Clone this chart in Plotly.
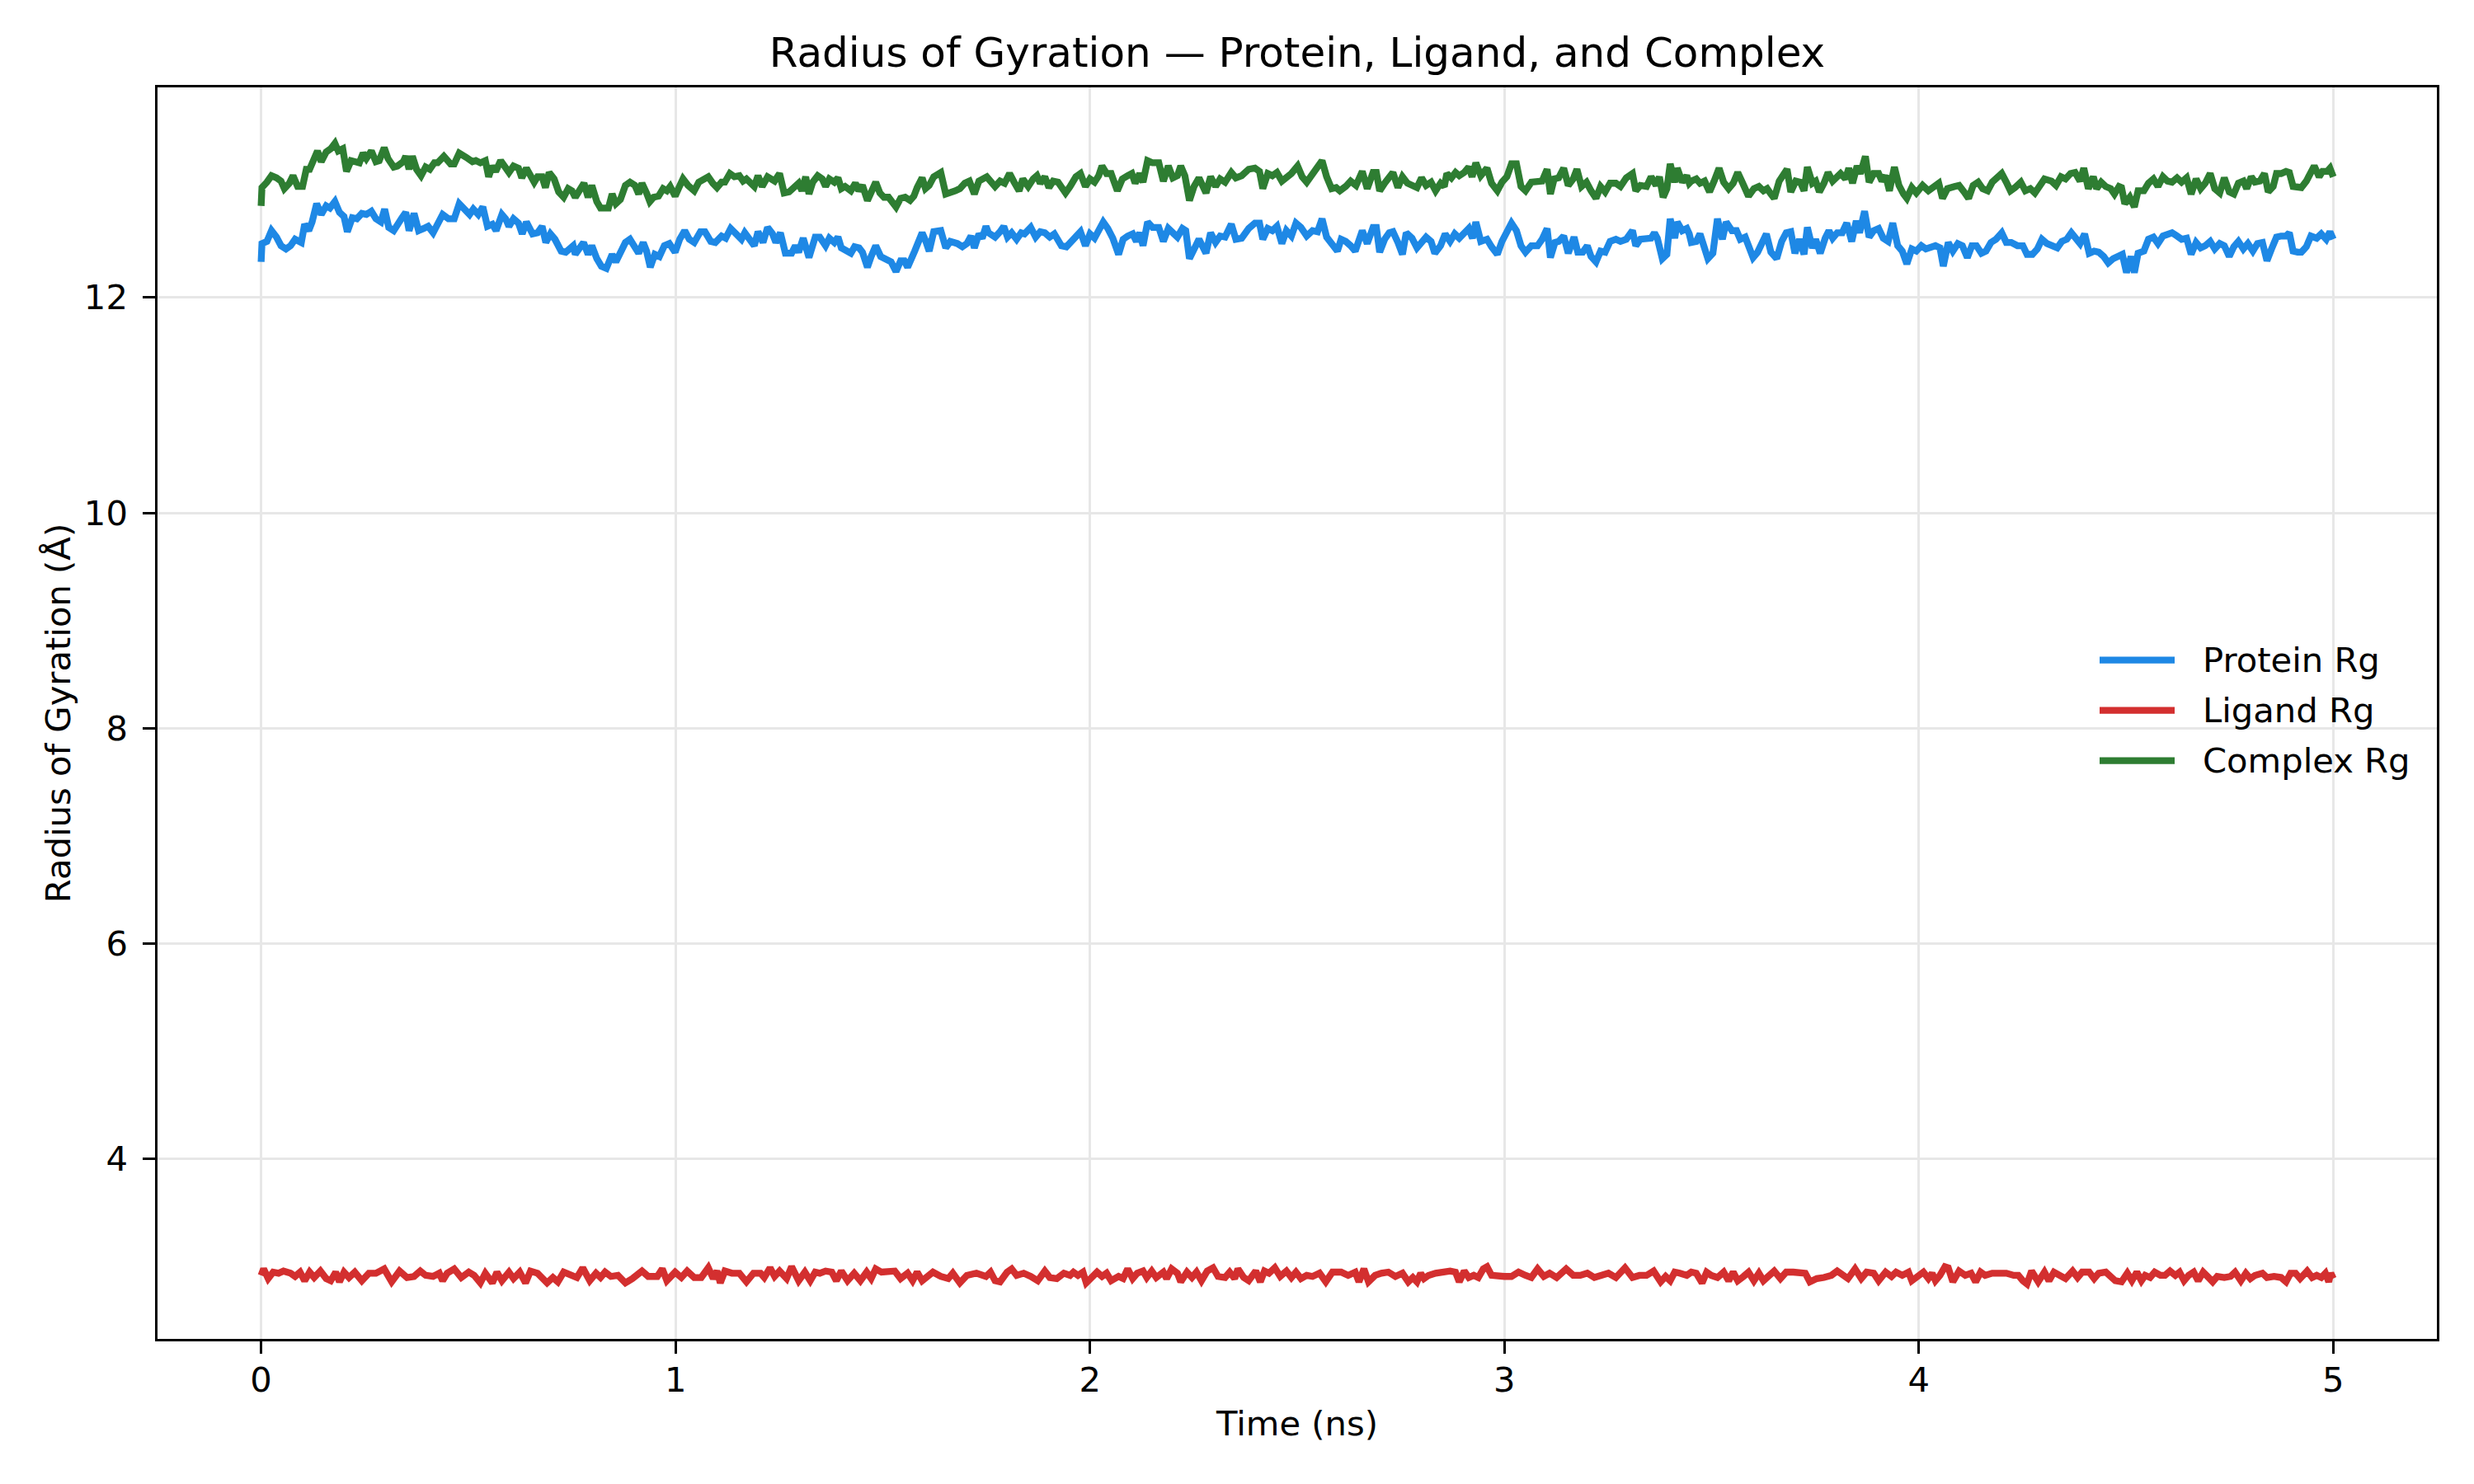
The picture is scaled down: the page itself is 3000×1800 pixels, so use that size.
import plotly.graph_objects as go

# ---------------- data ----------------
series_names = ["Protein Rg", "Ligand Rg", "Complex Rg"]
series_colors = ["#1E88E5", "#D32F2F", "#2E7D32"]

x_ticks = [0, 1, 2, 3, 4, 5]
y_ticks = [4, 6, 8, 10, 12]

protein_time = [
    0.000, 0.002, 0.014, 0.025, 0.037, 0.048, 0.060, 0.071, 0.082, 0.097, 0.105, 0.115, 0.123, 0.134, 0.145, 0.157,
    0.166, 0.178, 0.189, 0.200, 0.208, 0.220, 0.231, 0.243, 0.254, 0.266, 0.277, 0.289, 0.298, 0.308, 0.320, 0.329,
    0.340, 0.349, 0.357, 0.369, 0.380, 0.392, 0.403, 0.415, 0.426, 0.438, 0.452, 0.466, 0.478, 0.491, 0.503, 0.512,
    0.524, 0.535, 0.546, 0.558, 0.567, 0.581, 0.590, 0.598, 0.609, 0.621, 0.630, 0.640, 0.655, 0.667, 0.678, 0.687,
    0.698, 0.709, 0.724, 0.735, 0.753, 0.758, 0.770, 0.778, 0.789, 0.798, 0.810, 0.821, 0.833, 0.847, 0.856, 0.867,
    0.879, 0.890, 0.902, 0.911, 0.922, 0.930, 0.939, 0.950, 0.961, 0.973, 0.985, 0.999, 1.010, 1.022, 1.033, 1.045,
    1.060, 1.071, 1.085, 1.096, 1.111, 1.121, 1.133, 1.144, 1.159, 1.167, 1.179, 1.190, 1.199, 1.211, 1.222, 1.234,
    1.242, 1.253, 1.265, 1.280, 1.289, 1.297, 1.308, 1.322, 1.337, 1.348, 1.362, 1.371, 1.383, 1.392, 1.400, 1.411,
    1.423, 1.432, 1.443, 1.451, 1.463, 1.472, 1.483, 1.495, 1.509, 1.520, 1.532, 1.543, 1.552, 1.560, 1.577, 1.583,
    1.595, 1.604, 1.612, 1.623, 1.640, 1.652, 1.663, 1.680, 1.692, 1.703, 1.713, 1.721, 1.732, 1.740, 1.749, 1.755,
    1.771, 1.783, 1.792, 1.801, 1.811, 1.823, 1.834, 1.842, 1.857, 1.869, 1.880, 1.891, 1.903, 1.914, 1.931, 1.943,
    1.960, 1.977, 1.989, 2.000, 2.011, 2.023, 2.032, 2.043, 2.055, 2.069, 2.080, 2.091, 2.103, 2.112, 2.120, 2.128,
    2.139, 2.151, 2.166, 2.177, 2.189, 2.200, 2.211, 2.223, 2.231, 2.240, 2.251, 2.263, 2.280, 2.291, 2.303, 2.314,
    2.326, 2.341, 2.352, 2.366, 2.383, 2.398, 2.409, 2.417, 2.429, 2.440, 2.451, 2.463, 2.474, 2.486, 2.497, 2.509,
    2.523, 2.537, 2.549, 2.560, 2.571, 2.585, 2.597, 2.606, 2.617, 2.629, 2.640, 2.657, 2.669, 2.683, 2.691, 2.699,
    2.711, 2.722, 2.731, 2.743, 2.754, 2.763, 2.777, 2.789, 2.800, 2.811, 2.823, 2.832, 2.846, 2.857, 2.869, 2.880,
    2.891, 2.903, 2.914, 2.923, 2.931, 2.943, 2.958, 2.969, 2.983, 2.994, 3.006, 3.017, 3.029, 3.040, 3.051, 3.065,
    3.080, 3.091, 3.103, 3.111, 3.122, 3.131, 3.143, 3.154, 3.168, 3.177, 3.189, 3.200, 3.209, 3.221, 3.232, 3.243,
    3.255, 3.269, 3.280, 3.294, 3.309, 3.317, 3.328, 3.343, 3.354, 3.362, 3.369, 3.381, 3.392, 3.400, 3.411, 3.417,
    3.429, 3.440, 3.446, 3.451, 3.463, 3.472, 3.480, 3.491, 3.503, 3.514, 3.526, 3.535, 3.549, 3.560, 3.569, 3.581,
    3.589, 3.600, 3.611, 3.623, 3.632, 3.643, 3.657, 3.669, 3.680, 3.691, 3.701, 3.712, 3.723, 3.731, 3.743, 3.751,
    3.762, 3.774, 3.783, 3.792, 3.803, 3.815, 3.826, 3.838, 3.849, 3.857, 3.869, 3.880, 3.891, 3.903, 3.914, 3.926,
    3.937, 3.949, 3.960, 3.971, 3.983, 3.994, 4.006, 4.017, 4.029, 4.040, 4.051, 4.059, 4.071, 4.082, 4.094, 4.105,
    4.117, 4.128, 4.139, 4.151, 4.162, 4.174, 4.186, 4.200, 4.211, 4.223, 4.238, 4.251, 4.261, 4.274, 4.286, 4.297,
    4.309, 4.322, 4.334, 4.345, 4.357, 4.368, 4.379, 4.389, 4.400, 4.411, 4.423, 4.434, 4.446, 4.457, 4.469, 4.480,
    4.491, 4.501, 4.512, 4.520, 4.529, 4.543, 4.554, 4.566, 4.577, 4.589, 4.600, 4.611, 4.623, 4.634, 4.646, 4.657,
    4.669, 4.680, 4.691, 4.703, 4.714, 4.726, 4.737, 4.749, 4.760, 4.771, 4.783, 4.794, 4.806, 4.817, 4.829, 4.840,
    4.851, 4.863, 4.874, 4.886, 4.894, 4.903, 4.914, 4.923, 4.935, 4.946, 4.960, 4.971, 4.983, 4.992, 5.000,
]
protein_rg = [
    12.33, 12.50, 12.52, 12.62, 12.56, 12.48, 12.45, 12.48, 12.54, 12.51, 12.68, 12.62, 12.70, 12.87, 12.77, 12.85,
    12.83, 12.89, 12.79, 12.75, 12.61, 12.74, 12.73, 12.78, 12.77, 12.80, 12.73, 12.70, 12.82, 12.65, 12.62, 12.69,
    12.74, 12.79, 12.62, 12.78, 12.62, 12.64, 12.66, 12.60, 12.68, 12.77, 12.73, 12.73, 12.87, 12.82, 12.77, 12.82,
    12.77, 12.84, 12.66, 12.68, 12.62, 12.77, 12.73, 12.66, 12.73, 12.69, 12.59, 12.70, 12.59, 12.60, 12.66, 12.51,
    12.59, 12.54, 12.43, 12.42, 12.48, 12.40, 12.48, 12.51, 12.40, 12.48, 12.36, 12.29, 12.27, 12.40, 12.33, 12.42,
    12.51, 12.54, 12.48, 12.41, 12.51, 12.43, 12.28, 12.40, 12.38, 12.48, 12.50, 12.42, 12.54, 12.62, 12.54, 12.51,
    12.61, 12.61, 12.52, 12.51, 12.57, 12.55, 12.64, 12.60, 12.54, 12.60, 12.54, 12.48, 12.61, 12.51, 12.65, 12.59,
    12.51, 12.60, 12.41, 12.41, 12.48, 12.42, 12.55, 12.37, 12.56, 12.56, 12.48, 12.55, 12.51, 12.56, 12.46, 12.43,
    12.41, 12.47, 12.46, 12.42, 12.28, 12.38, 12.48, 12.38, 12.36, 12.33, 12.24, 12.34, 12.34, 12.28, 12.43, 12.48,
    12.60, 12.52, 12.43, 12.61, 12.62, 12.46, 12.52, 12.50, 12.47, 12.50, 12.57, 12.46, 12.59, 12.55, 12.66, 12.60,
    12.56, 12.61, 12.66, 12.56, 12.60, 12.54, 12.60, 12.59, 12.65, 12.56, 12.61, 12.60, 12.56, 12.59, 12.48, 12.47,
    12.55, 12.61, 12.48, 12.59, 12.55, 12.62, 12.70, 12.64, 12.55, 12.40, 12.54, 12.57, 12.59, 12.52, 12.60, 12.48,
    12.70, 12.65, 12.65, 12.52, 12.64, 12.60, 12.56, 12.64, 12.62, 12.36, 12.46, 12.54, 12.41, 12.60, 12.51, 12.57,
    12.56, 12.68, 12.54, 12.55, 12.64, 12.69, 12.69, 12.54, 12.64, 12.62, 12.66, 12.50, 12.62, 12.57, 12.69, 12.65,
    12.57, 12.62, 12.61, 12.73, 12.56, 12.50, 12.43, 12.54, 12.52, 12.48, 12.43, 12.62, 12.50, 12.65, 12.65, 12.42,
    12.54, 12.60, 12.61, 12.51, 12.40, 12.60, 12.55, 12.46, 12.52, 12.56, 12.52, 12.41, 12.48, 12.59, 12.52, 12.59,
    12.55, 12.59, 12.64, 12.55, 12.70, 12.52, 12.54, 12.47, 12.40, 12.52, 12.60, 12.69, 12.62, 12.48, 12.42, 12.48,
    12.48, 12.54, 12.64, 12.37, 12.51, 12.52, 12.57, 12.41, 12.56, 12.42, 12.42, 12.48, 12.38, 12.33, 12.43, 12.42,
    12.52, 12.54, 12.52, 12.54, 12.62, 12.48, 12.54, 12.54, 12.55, 12.60, 12.55, 12.36, 12.40, 12.73, 12.55, 12.70,
    12.62, 12.64, 12.59, 12.51, 12.52, 12.59, 12.48, 12.36, 12.41, 12.73, 12.54, 12.70, 12.62, 12.62, 12.54, 12.56,
    12.48, 12.37, 12.42, 12.50, 12.59, 12.42, 12.36, 12.52, 12.60, 12.61, 12.41, 12.54, 12.40, 12.65, 12.46, 12.54,
    12.41, 12.55, 12.62, 12.55, 12.60, 12.60, 12.69, 12.52, 12.71, 12.60, 12.80, 12.56, 12.62, 12.64, 12.55, 12.52,
    12.69, 12.48, 12.43, 12.31, 12.45, 12.43, 12.48, 12.45, 12.47, 12.48, 12.46, 12.29, 12.51, 12.43, 12.50, 12.48,
    12.37, 12.48, 12.48, 12.41, 12.43, 12.51, 12.54, 12.60, 12.51, 12.51, 12.48, 12.48, 12.40, 12.40, 12.45, 12.54,
    12.50, 12.47, 12.46, 12.52, 12.54, 12.60, 12.55, 12.50, 12.59, 12.41, 12.43, 12.42, 12.38, 12.32, 12.36, 12.38,
    12.40, 12.23, 12.38, 12.23, 12.41, 12.43, 12.54, 12.56, 12.50, 12.57, 12.59, 12.60, 12.57, 12.54, 12.55, 12.40,
    12.51, 12.46, 12.48, 12.52, 12.45, 12.50, 12.48, 12.38, 12.47, 12.52, 12.45, 12.50, 12.43, 12.50, 12.51, 12.34,
    12.45, 12.56, 12.57, 12.57, 12.60, 12.43, 12.42, 12.42, 12.47, 12.57, 12.55, 12.59, 12.54, 12.61, 12.54,
]

complex_time = [
    0.000, 0.002, 0.014, 0.025, 0.037, 0.048, 0.056, 0.068, 0.077, 0.088, 0.100, 0.109, 0.117, 0.125, 0.136, 0.145,
    0.157, 0.168, 0.178, 0.186, 0.197, 0.206, 0.217, 0.237, 0.246, 0.254, 0.266, 0.277, 0.285, 0.297, 0.306, 0.320,
    0.329, 0.343, 0.349, 0.357, 0.365, 0.375, 0.386, 0.397, 0.407, 0.418, 0.426, 0.441, 0.457, 0.466, 0.478, 0.495,
    0.510, 0.518, 0.529, 0.541, 0.549, 0.558, 0.566, 0.578, 0.590, 0.598, 0.609, 0.621, 0.629, 0.640, 0.659, 0.667,
    0.678, 0.686, 0.695, 0.707, 0.718, 0.730, 0.741, 0.750, 0.758, 0.770, 0.779, 0.789, 0.798, 0.810, 0.819, 0.833,
    0.838, 0.847, 0.856, 0.867, 0.879, 0.890, 0.902, 0.911, 0.919, 0.930, 0.938, 0.947, 0.959, 0.970, 0.979, 0.987,
    0.999, 1.007, 1.018, 1.030, 1.045, 1.056, 1.068, 1.079, 1.090, 1.100, 1.111, 1.119, 1.131, 1.142, 1.154, 1.163,
    1.171, 1.182, 1.190, 1.199, 1.209, 1.222, 1.234, 1.239, 1.251, 1.262, 1.274, 1.289, 1.297, 1.305, 1.314, 1.322,
    1.331, 1.343, 1.354, 1.362, 1.371, 1.383, 1.392, 1.400, 1.409, 1.423, 1.434, 1.442, 1.451, 1.463, 1.472, 1.483,
    1.493, 1.503, 1.514, 1.526, 1.532, 1.543, 1.554, 1.566, 1.575, 1.583, 1.595, 1.603, 1.612, 1.623, 1.632, 1.640,
    1.652, 1.663, 1.675, 1.686, 1.698, 1.709, 1.721, 1.732, 1.743, 1.751,
    1.771, 1.783, 1.794, 1.806, 1.817, 1.829, 1.838, 1.851, 1.863, 1.872, 1.880, 1.891, 1.901, 1.911, 1.923, 1.941,
    1.952, 1.966, 1.977, 1.989, 2.000, 2.011, 2.021, 2.029, 2.040, 2.051, 2.066, 2.078, 2.091, 2.101, 2.109, 2.120,
    2.128, 2.139, 2.151, 2.166, 2.177, 2.189, 2.200, 2.211, 2.219, 2.229, 2.240, 2.251, 2.263, 2.280, 2.291, 2.303,
    2.314, 2.326, 2.341, 2.352, 2.366, 2.383, 2.398, 2.409, 2.417, 2.429, 2.440, 2.451, 2.463, 2.474, 2.486, 2.501,
    2.512, 2.523, 2.537, 2.549, 2.560, 2.571, 2.583, 2.594, 2.603, 2.617, 2.629, 2.642, 2.657, 2.669, 2.683, 2.691,
    2.699, 2.711, 2.722, 2.731, 2.743, 2.754, 2.766, 2.779, 2.789, 2.800, 2.811, 2.823, 2.834, 2.846, 2.855, 2.861,
    2.872, 2.882, 2.891, 2.903, 2.914, 2.922, 2.931, 2.943, 2.958, 2.969, 2.983, 2.994, 3.006, 3.017, 3.029, 3.040,
    3.051, 3.065, 3.080, 3.091, 3.103, 3.111, 3.120, 3.131, 3.143, 3.154, 3.166, 3.175, 3.186, 3.198, 3.209, 3.221,
    3.232, 3.243, 3.255, 3.269, 3.280, 3.294, 3.309, 3.317, 3.328, 3.343, 3.354, 3.366, 3.374, 3.383, 3.392, 3.400,
    3.411, 3.417, 3.429, 3.440, 3.446,
    3.451, 3.463, 3.472, 3.483, 3.495, 3.506, 3.518, 3.529, 3.541, 3.552, 3.563, 3.575, 3.589, 3.602, 3.614, 3.625,
    3.634, 3.643, 3.651, 3.663, 3.674, 3.682, 3.691, 3.703, 3.714, 3.723, 3.731, 3.743, 3.751, 3.760, 3.771, 3.781,
    3.792, 3.803, 3.811, 3.823, 3.831, 3.840, 3.851, 3.859, 3.871, 3.880, 3.891, 3.903, 3.911, 3.920, 3.929, 3.941,
    3.952, 3.963, 3.971, 3.983, 3.994, 4.009, 4.023, 4.034, 4.048, 4.057, 4.069, 4.086, 4.097, 4.109, 4.120, 4.131,
    4.143, 4.154, 4.166, 4.177, 4.189, 4.200, 4.211, 4.221, 4.232, 4.246, 4.257, 4.269, 4.280, 4.291, 4.303, 4.320,
    4.331, 4.343, 4.354, 4.366, 4.377, 4.389, 4.398, 4.409, 4.421, 4.429, 4.440, 4.451, 4.463, 4.472, 4.483, 4.489,
    4.497, 4.509, 4.520, 4.529, 4.543, 4.554, 4.566, 4.577, 4.589, 4.600, 4.611, 4.623, 4.634, 4.646, 4.657, 4.669,
    4.680, 4.691, 4.703, 4.714, 4.726, 4.737, 4.749, 4.760, 4.771, 4.783, 4.791, 4.802, 4.811, 4.823, 4.834, 4.843,
    4.855, 4.863, 4.874, 4.886, 4.894, 4.903, 4.914, 4.923, 4.935, 4.946, 4.954, 4.966, 4.974, 4.985, 4.992, 5.000,
]
complex_rg = [
    12.85, 13.02, 13.07, 13.13, 13.11, 13.08, 13.01, 13.06, 13.13, 13.03, 13.03, 13.19, 13.19, 13.26, 13.36, 13.26,
    13.35, 13.38, 13.43, 13.36, 13.38, 13.17, 13.27, 13.25, 13.34, 13.29, 13.36, 13.26, 13.27, 13.39, 13.29, 13.21,
    13.22, 13.26, 13.31, 13.19, 13.31, 13.19, 13.13, 13.21, 13.19, 13.25, 13.25, 13.31, 13.24, 13.24, 13.34, 13.30,
    13.26, 13.27, 13.25, 13.27, 13.12, 13.22, 13.17, 13.27, 13.19, 13.16, 13.22, 13.20, 13.11, 13.20, 13.07, 13.12,
    13.12, 13.02, 13.16, 13.10, 12.98, 12.93, 13.01, 12.99, 12.93, 13.01, 13.06, 12.93, 13.04, 12.89, 12.83, 12.83,
    12.83, 12.96, 12.87, 12.91, 13.04, 13.07, 13.04, 12.96, 13.06, 12.97, 12.89, 12.93, 12.94, 13.01, 12.99, 13.03,
    12.94, 13.01, 13.10, 13.04, 12.99, 13.07, 13.10, 13.12, 13.06, 13.02, 13.07, 13.07, 13.15, 13.12, 13.13, 13.08,
    13.10, 13.07, 13.03, 13.13, 13.03, 13.12, 13.10, 13.08, 13.15, 12.97, 12.98, 13.02, 13.06, 12.99, 13.12, 12.96,
    13.07, 13.13, 13.10, 13.03, 13.10, 13.07, 13.11, 13.01, 13.03, 12.99, 13.06, 12.99, 13.04, 12.90, 12.98, 13.07,
    12.97, 12.93, 12.93, 12.88, 12.84, 12.92, 12.93, 12.90, 12.94, 13.02, 13.11, 13.01, 13.04, 13.12, 13.15, 13.16,
    12.96, 12.97, 12.99, 13.01, 13.06, 13.08, 12.96, 13.08, 13.10, 13.12,
    13.03, 13.08, 13.06, 13.15, 13.07, 12.99, 13.10, 13.03, 13.10, 13.13, 13.06, 13.12, 13.02, 13.08, 13.07, 12.97,
    13.03, 13.12, 13.15, 13.03, 13.10, 13.07, 13.13, 13.22, 13.15, 13.15, 12.99, 13.10, 13.13, 13.15, 13.06, 13.15,
    13.07, 13.27, 13.25, 13.25, 13.08, 13.22, 13.11, 13.13, 13.22, 13.13, 12.90, 13.03, 13.11, 12.97, 13.12, 13.03,
    13.10, 13.07, 13.16, 13.11, 13.13, 13.19, 13.20, 13.17, 13.01, 13.15, 13.13, 13.16, 13.08, 13.11, 13.15, 13.22,
    13.12, 13.07, 13.15, 13.20, 13.27, 13.12, 13.01, 13.02, 12.99, 13.03, 13.08, 13.04, 13.17, 13.01, 13.16, 13.16,
    12.99, 13.06, 13.13, 13.16, 13.02, 13.12, 13.06, 13.04, 13.02, 13.11, 13.04, 13.07, 12.99, 13.06, 13.03, 13.15,
    13.11, 13.16, 13.13, 13.16, 13.21, 13.12, 13.25, 13.13, 13.20, 13.06, 12.99, 13.07, 13.12, 13.24, 13.24, 13.03,
    12.99, 13.07, 13.07, 13.08, 13.19, 12.96, 13.10, 13.11, 13.20, 13.04, 13.10, 13.19, 13.03, 13.07, 12.99, 12.92,
    13.03, 12.98, 13.06, 13.06, 13.03, 13.11, 13.15, 12.99, 13.04, 13.03, 13.12, 13.04, 13.12, 12.93, 13.01, 13.24,
    13.07, 13.20, 13.07, 13.13, 13.06,
    13.08, 13.10, 13.06, 13.08, 12.98, 13.08, 13.20, 13.07, 13.01, 13.06, 13.16, 13.06, 12.94, 13.01, 13.03, 12.99,
    13.01, 12.96, 12.92, 13.08, 13.16, 13.19, 12.98, 13.08, 13.07, 12.99, 13.21, 13.06, 13.08, 12.98, 13.06, 13.16,
    13.08, 13.11, 13.15, 13.10, 13.20, 13.06, 13.22, 13.15, 13.31, 13.07, 13.15, 13.15, 13.08, 13.13, 12.99, 13.21,
    13.04, 12.96, 12.92, 13.02, 12.97, 13.04, 12.99, 13.02, 13.06, 12.92, 13.01, 13.03, 13.04, 12.98, 12.92, 13.04,
    13.07, 13.01, 12.99, 13.07, 13.11, 13.15, 13.07, 12.99, 13.02, 13.07, 12.99, 13.01, 12.97, 13.03, 13.10, 13.08,
    13.04, 13.12, 13.10, 13.15, 13.16, 13.08, 13.20, 13.01, 13.12, 13.01, 13.07, 13.03, 13.01, 12.96, 13.03, 13.02,
    12.87, 12.93, 12.84, 12.99, 12.99, 13.06, 13.10, 13.03, 13.12, 13.08, 13.07, 13.11, 13.07, 13.11, 12.96, 13.10,
    13.01, 13.06, 13.15, 13.01, 12.97, 13.11, 12.98, 12.96, 13.06, 13.08, 13.01, 13.12, 13.07, 13.08, 13.15, 12.98,
    13.03, 13.15, 13.15, 13.17, 13.16, 13.03, 13.03, 13.02, 13.08, 13.15, 13.22, 13.12, 13.17, 13.17, 13.20, 13.12,
]

ligand_time = [
    0.000, 0.006, 0.017, 0.029, 0.042, 0.054, 0.071, 0.082, 0.094, 0.105, 0.117, 0.128, 0.143, 0.157, 0.168, 0.180,
    0.189, 0.200, 0.212, 0.226, 0.243, 0.260, 0.277, 0.297, 0.315, 0.334, 0.352, 0.369, 0.384, 0.397, 0.415, 0.430,
    0.438, 0.449, 0.466, 0.483, 0.501, 0.514, 0.529, 0.541, 0.558, 0.569, 0.581, 0.598, 0.609, 0.624, 0.638, 0.650,
    0.667, 0.678, 0.690, 0.704, 0.716, 0.730, 0.747, 0.762, 0.776, 0.793, 0.808, 0.819, 0.830, 0.844, 0.861, 0.879,
    0.896, 0.919, 0.934, 0.956, 0.968, 0.979, 0.999, 1.014, 1.028, 1.045, 1.062, 1.079, 1.091, 1.100, 1.108, 1.119,
    1.136, 1.154, 1.171, 1.188, 1.205, 1.214, 1.228, 1.239, 1.251, 1.268, 1.280, 1.297, 1.312, 1.325, 1.337, 1.348,
    1.362, 1.377, 1.388, 1.400, 1.415, 1.431, 1.446, 1.461, 1.472, 1.483, 1.497, 1.514, 1.529, 1.543, 1.560, 1.572,
    1.583, 1.595, 1.606, 1.621, 1.640, 1.658, 1.669, 1.686, 1.703, 1.726, 1.749,
    1.760, 1.771, 1.783, 1.800, 1.811, 1.823, 1.840, 1.857, 1.874, 1.891, 1.903, 1.920, 1.937, 1.952, 1.960, 1.971,
    1.983, 1.991, 2.006, 2.017, 2.029, 2.040, 2.051, 2.069, 2.080, 2.091, 2.103, 2.114, 2.128, 2.137, 2.149, 2.160,
    2.177, 2.185, 2.197, 2.211, 2.219, 2.234, 2.246, 2.257, 2.269, 2.283, 2.297, 2.309, 2.326, 2.337, 2.349, 2.357,
    2.371, 2.383, 2.400, 2.411, 2.421, 2.432, 2.446, 2.459, 2.474, 2.486, 2.497, 2.509, 2.523, 2.537, 2.554, 2.569,
    2.585, 2.606, 2.623, 2.640, 2.649, 2.661, 2.672, 2.688, 2.703, 2.720, 2.737, 2.754, 2.768, 2.779, 2.789, 2.798,
    2.806, 2.817, 2.834, 2.851, 2.869, 2.882, 2.891, 2.903, 2.914, 2.926, 2.937, 2.949, 2.958, 2.969, 2.983, 3.000,
    3.017, 3.034, 3.051, 3.065, 3.080, 3.095, 3.109, 3.126, 3.149, 3.166, 3.183, 3.200, 3.217, 3.234, 3.251, 3.269,
    3.291, 3.309, 3.326, 3.343, 3.360, 3.377, 3.389, 3.400, 3.411, 3.423, 3.440,
    3.451, 3.463, 3.477, 3.488, 3.499, 3.514, 3.529, 3.541, 3.552, 3.563, 3.577, 3.589, 3.602, 3.614, 3.625, 3.637,
    3.651, 3.666, 3.680, 3.697, 3.714, 3.726, 3.737, 3.754, 3.771, 3.789, 3.803, 3.817, 3.829, 3.846, 3.861, 3.874,
    3.891, 3.903, 3.920, 3.934, 3.945, 3.960, 3.975, 3.983, 3.998, 4.011, 4.023, 4.032, 4.040, 4.051, 4.063, 4.071,
    4.082, 4.097, 4.112, 4.126, 4.137, 4.149, 4.160, 4.177, 4.194, 4.211, 4.229, 4.240, 4.251, 4.261, 4.272, 4.288,
    4.303, 4.314, 4.326, 4.341, 4.354, 4.371, 4.383, 4.394, 4.411, 4.423, 4.434, 4.451, 4.463, 4.474, 4.489, 4.503,
    4.514, 4.526, 4.537, 4.546, 4.558, 4.569, 4.583, 4.594, 4.606, 4.619, 4.629, 4.640, 4.651, 4.663, 4.674, 4.686,
    4.699, 4.709, 4.720, 4.737, 4.752, 4.763, 4.777, 4.789, 4.800, 4.811, 4.829, 4.840, 4.857, 4.874, 4.886, 4.897,
    4.909, 4.920, 4.937, 4.949, 4.960, 4.971, 4.981, 4.989, 4.994, 5.000,
]
ligand_rg = [
    2.92, 2.98, 2.89, 2.95, 2.94, 2.96, 2.94, 2.91, 2.95, 2.87, 2.95, 2.90, 2.96, 2.89, 2.87, 2.95,
    2.86, 2.95, 2.90, 2.95, 2.87, 2.94, 2.94, 2.98, 2.86, 2.96, 2.90, 2.91, 2.96, 2.92, 2.91, 2.94,
    2.87, 2.94, 2.98, 2.90, 2.95, 2.92, 2.85, 2.94, 2.85, 2.95, 2.87, 2.95, 2.89, 2.95, 2.85, 2.96,
    2.94, 2.89, 2.85, 2.90, 2.86, 2.95, 2.92, 2.90, 2.99, 2.87, 2.94, 2.90, 2.95, 2.91, 2.92, 2.85,
    2.89, 2.96, 2.91, 2.91, 2.98, 2.87, 2.95, 2.90, 2.96, 2.90, 2.90, 2.99, 2.89, 2.96, 2.85, 2.96,
    2.94, 2.94, 2.86, 2.94, 2.94, 2.90, 2.99, 2.91, 2.96, 2.89, 3.00, 2.87, 2.95, 2.87, 2.95, 2.94,
    2.96, 2.95, 2.87, 2.96, 2.87, 2.94, 2.87, 2.95, 2.89, 2.98, 2.95, 2.95, 2.96, 2.89, 2.94, 2.87,
    2.95, 2.87, 2.90, 2.95, 2.91, 2.89, 2.94, 2.85, 2.92, 2.94, 2.91,
    2.95, 2.87, 2.86, 2.95, 2.98, 2.92, 2.94, 2.91, 2.87, 2.96, 2.90, 2.89, 2.94, 2.92, 2.95, 2.92,
    2.95, 2.85, 2.92, 2.95, 2.91, 2.94, 2.87, 2.91, 2.89, 2.98, 2.89, 2.94, 2.96, 2.90, 2.96, 2.90,
    2.95, 2.89, 2.98, 2.94, 2.86, 2.95, 2.90, 2.95, 2.87, 2.96, 2.99, 2.91, 2.90, 2.95, 2.89, 2.98,
    2.90, 2.87, 2.96, 2.86, 2.96, 2.94, 2.99, 2.91, 2.96, 2.90, 2.95, 2.89, 2.92, 2.91, 2.94, 2.86,
    2.95, 2.95, 2.92, 2.95, 2.86, 2.98, 2.86, 2.92, 2.94, 2.95, 2.91, 2.94, 2.86, 2.90, 2.86, 2.94,
    2.89, 2.92, 2.94, 2.95, 2.96, 2.95, 2.86, 2.96, 2.90, 2.92, 2.90, 2.98, 3.00, 2.92, 2.91, 2.91,
    2.91, 2.95, 2.92, 2.90, 2.98, 2.91, 2.94, 2.90, 2.98, 2.92, 2.92, 2.94, 2.90, 2.92, 2.94, 2.90,
    2.99, 2.90, 2.92, 2.92, 2.96, 2.86, 2.91, 2.87, 2.95, 2.94, 2.92,
    2.95, 2.94, 2.85, 2.95, 2.92, 2.90, 2.95, 2.87, 2.95, 2.87, 2.91, 2.95, 2.87, 2.94, 2.87, 2.91,
    2.96, 2.89, 2.95, 2.95, 2.94, 2.94, 2.86, 2.89, 2.90, 2.92, 2.96, 2.92, 2.89, 2.98, 2.89, 2.95,
    2.94, 2.87, 2.95, 2.91, 2.95, 2.92, 2.95, 2.87, 2.92, 2.95, 2.89, 2.94, 2.87, 2.92, 3.00, 2.99,
    2.86, 2.96, 2.92, 2.94, 2.86, 2.95, 2.92, 2.94, 2.94, 2.94, 2.92, 2.92, 2.87, 2.84, 2.96, 2.86,
    2.95, 2.87, 2.95, 2.91, 2.89, 2.96, 2.90, 2.95, 2.95, 2.89, 2.94, 2.95, 2.90, 2.87, 2.86, 2.94,
    2.87, 2.95, 2.87, 2.92, 2.90, 2.95, 2.92, 2.92, 2.96, 2.92, 2.95, 2.87, 2.92, 2.95, 2.87, 2.95,
    2.90, 2.86, 2.91, 2.90, 2.91, 2.95, 2.87, 2.94, 2.89, 2.92, 2.94, 2.90, 2.91, 2.90, 2.86, 2.94,
    2.94, 2.89, 2.96, 2.90, 2.92, 2.90, 2.94, 2.86, 2.94, 2.89,
]

title_text = "Radius of Gyration \u2014 Protein, Ligand, and Complex"
x_label = "Time (ns)"
y_label = "Radius of Gyration (\u00c5)"

# ---------------- figure ----------------
FONT = "DejaVu Sans"
W, H = 3000, 1800
ML, MR, MT, MB = 191, 45, 106, 176
LW = 8.3
SPINE = 3.3

fig = go.Figure()
series = [
    (protein_time, protein_rg),
    (ligand_time, ligand_rg),
    (complex_time, complex_rg),
]
for (t, v), name, col in zip(series, series_names, series_colors):
    fig.add_trace(go.Scatter(x=t, y=v, mode="lines", name=name,
                             line=dict(color=col, width=LW), showlegend=False))

axis_common = dict(
    showgrid=True, gridcolor="#e7e7e7", gridwidth=3.3,
    showline=True, linecolor="black", linewidth=SPINE, mirror=True,
    ticks="outside", ticklen=14.6, tickwidth=SPINE, tickcolor="black",
    tickfont=dict(family=FONT, size=41.7, color="black"),
    zeroline=False,
)

fig.update_layout(
    width=W, height=H,
    margin=dict(l=ML, r=MR, t=MT, b=MB, pad=0),
    paper_bgcolor="white", plot_bgcolor="white",
    font=dict(family=FONT, color="black"),
    title=dict(text=title_text, x=0.5, xref="paper", xanchor="center",
               y=1 - 63 / H, yref="container", yanchor="middle",
               font=dict(family=FONT, size=50, color="black")),
    xaxis=dict(range=[-0.25, 5.25], tickvals=x_ticks, ticktext=[str(v) for v in x_ticks],
               ticklabelstandoff=-4,
               title=dict(text=x_label, font=dict(family=FONT, size=41.7, color="black"), standoff=16),
               **axis_common),
    yaxis=dict(range=[2.33, 13.95], tickvals=y_ticks, ticktext=[str(v) for v in y_ticks],
               ticklabelstandoff=10,
               title=dict(text=y_label, font=dict(family=FONT, size=41.7, color="black"), standoff=4),
               **axis_common),
)

# legend (frameless, center right) drawn in paper coordinates
plot_w = W - ML - MR
plot_h = H - MT - MB
handle_x0 = (2546 - ML) / plot_w
handle_x1 = (2637 - ML) / plot_w
text_x = (2669 - ML) / plot_w
row_px = [800.7, 861.7, 922.7]
for name, col, ypx in zip(series_names, series_colors, row_px):
    yp = (H - MB - ypx) / plot_h
    fig.add_shape(type="line", xref="paper", yref="paper",
                  x0=handle_x0, x1=handle_x1, y0=yp, y1=yp,
                  line=dict(color=col, width=LW))
    fig.add_annotation(xref="paper", yref="paper", x=text_x, y=yp,
                       text=name, showarrow=False, xanchor="left", yanchor="middle",
                       font=dict(family=FONT, size=41.7, color="black"))

fig.write_html("out.html", config={"displayModeBar": False},
               post_script="document.body.style.margin='0';document.body.style.overflow='hidden';")
